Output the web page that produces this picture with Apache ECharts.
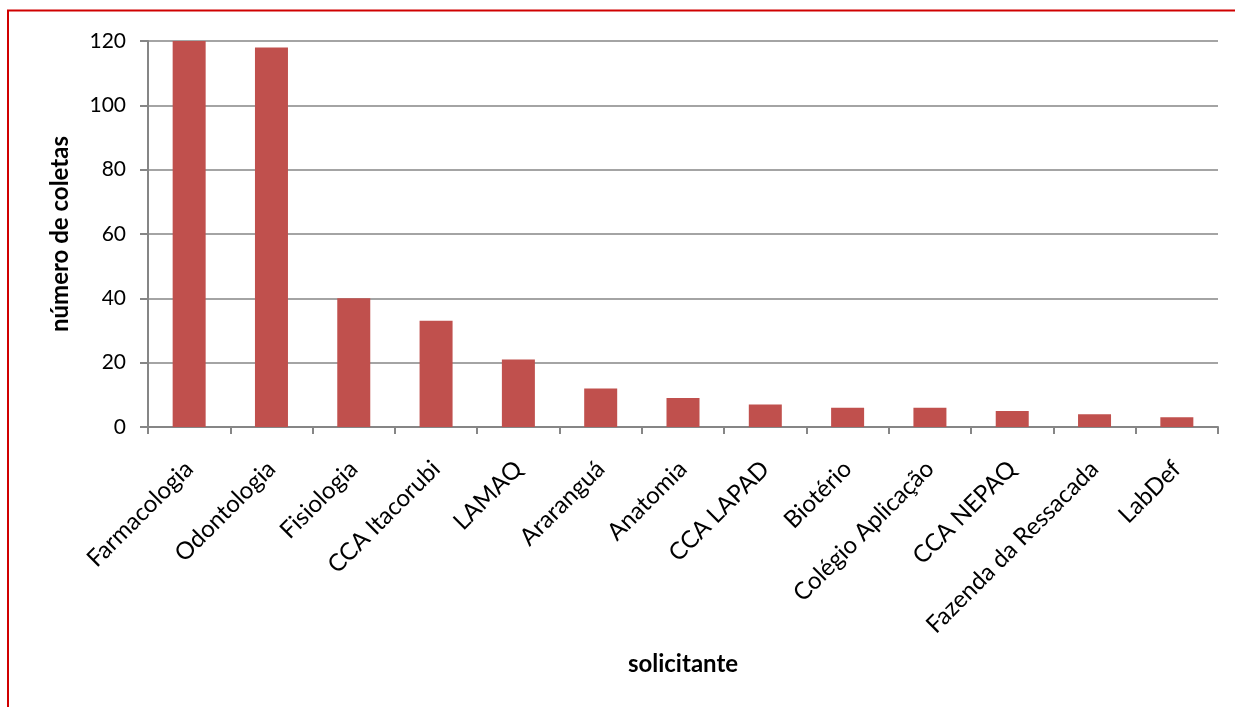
<!DOCTYPE html>
<html><head><meta charset="utf-8">
<script src="https://cdn.jsdelivr.net/npm/echarts@6/dist/echarts.min.js"></script>
<style>html,body{margin:0;padding:0;background:#fff}#c{width:1235px;height:707px}</style>
</head><body><div id="c"></div>
<script>
const categories = ['Farmacologia','Odontologia','Fisiologia','CCA Itacorubi','LAMAQ','Araranguá','Anatomia','CCA LAPAD','Biotério','Colégio Aplicação','CCA NEPAQ','Fazenda da Ressacada','LabDef'];
const values = [120,118,40,33,21,12,9,7,6,6,5,4,3];
const yTicks = [0,20,40,60,80,100,120];

const chart = echarts.init(document.getElementById('c'));
const font = 'Lato, "Open Sans", sans-serif';
chart.setOption({
  animation:false,
  graphic:[{type:'rect',shape:{x:8,y:10.5,width:1400,height:900},style:{fill:'none',stroke:'#d00000',lineWidth:2},silent:true}],
  grid:{left:148,right:17,top:41,bottom:280,containLabel:false},
  xAxis:{type:'category',data:categories,
    name:'solicitante',nameLocation:'middle',nameGap:225,
    nameTextStyle:{fontFamily:font,fontWeight:'bold',fontSize:24,color:'#000'},
    axisLine:{lineStyle:{color:'#868686',width:2}},
    axisTick:{show:true,alignWithLabel:false,length:7,lineStyle:{color:'#868686',width:2}},
    axisLabel:{rotate:45,interval:0,fontFamily:font,fontSize:24,color:'#000',margin:38}},
  yAxis:{type:'value',min:0,max:120,interval:20,
    name:'número de coletas',nameLocation:'middle',nameGap:76,
    nameTextStyle:{fontFamily:font,fontWeight:'bold',fontSize:24,color:'#000'},
    axisLine:{show:true,lineStyle:{color:'#868686',width:2}},
    axisTick:{show:true,length:8,lineStyle:{color:'#868686',width:2}},
    splitLine:{lineStyle:{color:'#868686',width:1.5}},
    axisLabel:{fontFamily:font,fontSize:21,color:'#000',margin:22,
      formatter:v=>yTicks.includes(v)?String(v):''}},
  series:[{type:'bar',data:values,barWidth:33,itemStyle:{color:'#C0504D'}}]
});
</script></body></html>
